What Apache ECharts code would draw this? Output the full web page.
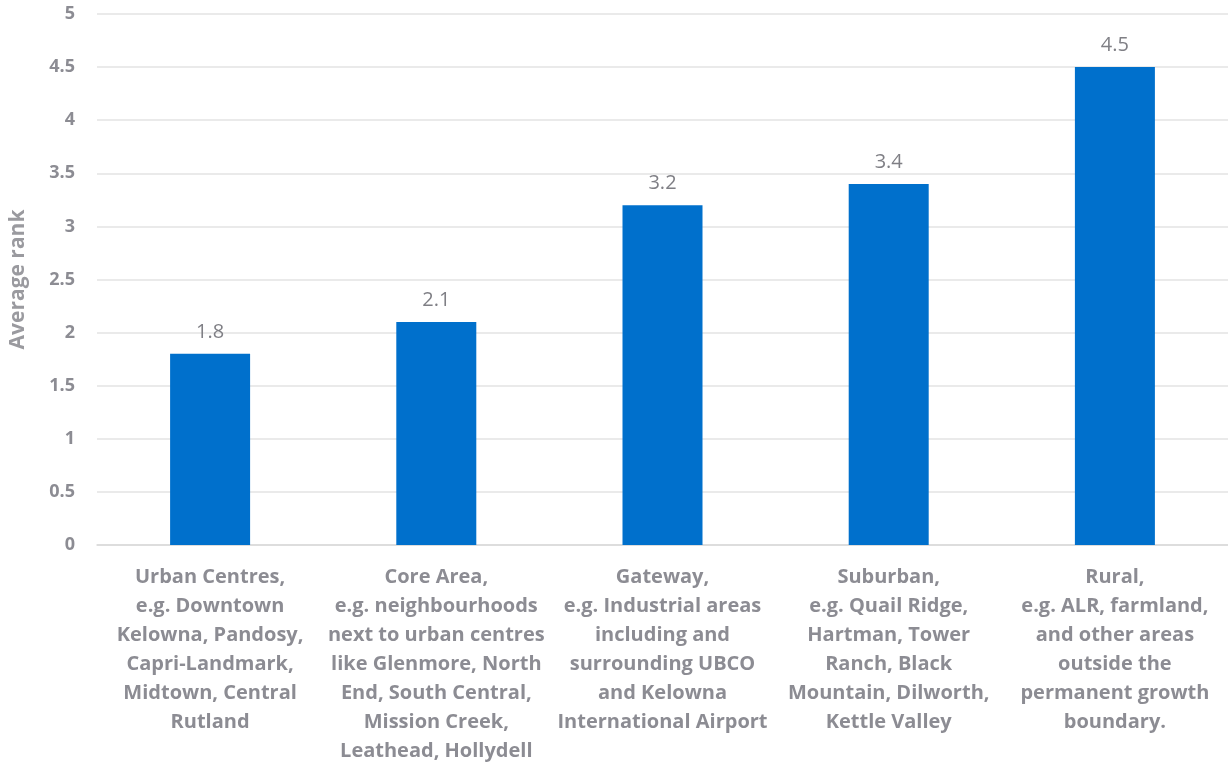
<!DOCTYPE html>
<html>
<head>
<meta charset="utf-8">
<script src="https://cdn.jsdelivr.net/npm/echarts@6/dist/echarts.min.js"></script>
<style>
html,body{margin:0;padding:0;background:#fff;}
#chart{width:1228px;height:764px;}
</style>
</head>
<body>
<div id="chart"></div>
<script>
const categories = [
  "Urban Centres,\ne.g. Downtown\nKelowna, Pandosy,\nCapri-Landmark,\nMidtown, Central\nRutland",
  "Core Area,\ne.g. neighbourhoods\nnext to urban centres\nlike Glenmore, North\nEnd, South Central,\nMission Creek,\nLeathead, Hollydell",
  "Gateway,\ne.g. Industrial areas\nincluding and\nsurrounding UBCO\nand Kelowna\nInternational Airport",
  "Suburban,\ne.g. Quail Ridge,\nHartman, Tower\nRanch, Black\nMountain, Dilworth,\nKettle Valley",
  "Rural,\ne.g. ALR, farmland,\nand other areas\noutside the\npermanent growth\nboundary."
];
const averageRank = [1.8, 2.1, 3.2, 3.4, 4.5];
const yAxisName = "Average rank";

const chart = echarts.init(document.getElementById('chart'));
const FONT = '"Open Sans", Lato, sans-serif';
chart.setOption({
  animation: false,
  grid: {left: 97, right: 0, top: 14, bottom: 219, containLabel: false, outerBoundsMode: 'none'},
  xAxis: {
    type: 'category',
    data: categories,
    axisTick: {show: false},
    axisLine: {lineStyle: {color: '#d9d9d9', width: 1.5}},
    axisLabel: {
      interval: 0,
      margin: 18,
      color: '#8c8c93',
      fontFamily: FONT,
      fontWeight: 'bold',
      fontSize: 20,
      lineHeight: 29,
      align: 'center'
    }
  },
  yAxis: {
    type: 'value',
    min: 0, max: 5, interval: 0.5,
    name: yAxisName,
    nameLocation: 'middle',
    nameRotate: 90,
    nameGap: 68,
    nameTextStyle: {color: '#9a9a9f', fontFamily: FONT, fontWeight: 'bold', fontSize: 21},
    axisLine: {show: false},
    axisTick: {show: false},
    splitLine: {lineStyle: {color: '#e3e3e3', width: 1.5}},
    axisLabel: {
      margin: 22,
      color: '#8c8c93',
      fontFamily: FONT,
      fontWeight: 'bold',
      fontSize: 18
    }
  },
  series: [{
    type: 'bar',
    data: averageRank,
    barWidth: 80,
    itemStyle: {color: '#0070cc'},
    label: {
      show: true,
      position: 'top',
      distance: 12,
      color: '#7f7f85',
      fontFamily: FONT,
      fontSize: 20
    }
  }]
});
</script>
</body>
</html>
